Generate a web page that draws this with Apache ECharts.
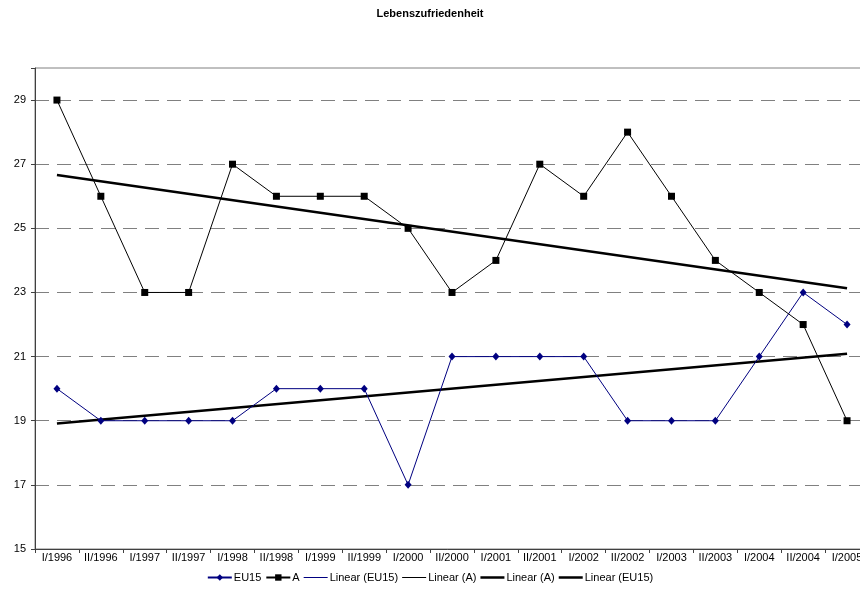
<!DOCTYPE html>
<html>
<head>
<meta charset="utf-8">
<script src="https://cdn.jsdelivr.net/npm/echarts@6/dist/echarts.min.js"></script>
<style>html,body{margin:0;padding:0;background:#fff;}#c{width:860px;height:614px;}</style>
</head>
<body>
<div id="c"></div>
<script>
var categories = ['I/1996','II/1996','I/1997','II/1997','I/1998','II/1998','I/1999','II/1999','I/2000','II/2000','I/2001','II/2001','I/2002','II/2002','I/2003','II/2003','I/2004','II/2004','I/2005'];
var eu15 = [20,19,19,19,19,20,20,20,17,21,21,21,21,19,19,19,21,23,22];
var austria = [29,26,23,23,27,26,26,26,25,23,24,27,26,28,26,24,23,22,19];
// trend line end points (first and last category)
var trendA = [26.66, 23.13];
var trendEU = [18.91, 21.09];
var yTicks = [15,17,19,21,23,25,27,29];

function endpoints(v){
  var d = categories.map(function(){return null;});
  d[0] = v[0]; d[d.length-1] = v[1];
  return d;
}

var chart = echarts.init(document.getElementById('c'));
var font = 'Liberation Sans, Arial, sans-serif';
var thinIcon = 'path://M0,0L24,0L24,1L0,1Z';
var thickIcon = 'path://M0,0L48,0L48,5L0,5Z';
chart.setOption({
  animation: false,
  backgroundColor: '#fff',
  title: {
    text: 'Lebenszufriedenheit', left: 'center', top: 3,
    textStyle: {fontFamily: font, fontSize: 11, fontWeight: 'bold', color: '#000'}
  },
  legend: {
    bottom: 26, left: 'center', itemGap: 4, itemWidth: 24, itemHeight: 8,
    textStyle: {fontFamily: font, fontSize: 11, color: '#000', padding: [0,0,0,-3]},
    formatter: function(n){ return n.trim(); },
    data: [
      {name: 'EU15'}, {name: 'A'},
      {name: 'Linear (EU15)', icon: thinIcon, itemStyle: {color: '#000080'}},
      {name: 'Linear (A)', icon: thinIcon, itemStyle: {color: '#000'}},
      {name: 'Linear (A) ', icon: thickIcon, itemStyle: {color: '#000'}},
      {name: 'Linear (EU15) ', icon: thickIcon, itemStyle: {color: '#000'}}
    ]
  },
  grid: {left: 35, top: 68, width: 834, bottom: 65, outerBoundsMode: 'none', containLabel: false,
    show: true, borderColor: '#808080', borderWidth: 1, backgroundColor: 'transparent'},
  xAxis: {
    type: 'category', data: categories, boundaryGap: true,
    axisLine: {lineStyle: {color: '#404040', width: 1}},
    axisTick: {show: true, alignWithLabel: false, length: 4, lineStyle: {color: '#404040'}},
    axisLabel: {interval: 0, fontFamily: font, fontSize: 11, color: '#000', margin: 3}
  },
  yAxis: {
    type: 'value', min: 15, max: 30, interval: 2,
    axisLine: {show: true, lineStyle: {color: '#404040', width: 1}},
    axisTick: {show: true, length: 4, lineStyle: {color: '#404040'}},
    axisLabel: {fontFamily: font, fontSize: 11, color: '#000', margin: 9,
      formatter: function(v){ return yTicks.indexOf(v) >= 0 ? String(v) : ''; }},
    splitLine: {show: true, showMinLine: false, showMaxLine: false, lineStyle: {color: '#808080', type: [14, 8], width: 1}}
  },
  series: [
    {name: 'EU15', type: 'line', data: eu15, symbol: 'diamond', symbolSize: [7, 8],
      lineStyle: {color: '#000080', width: 1}, itemStyle: {color: '#000080'}, z: 3},
    {name: 'A', type: 'line', data: austria, symbol: 'rect', symbolSize: 7,
      lineStyle: {color: '#000', width: 1}, itemStyle: {color: '#000'}, z: 3},
    {name: 'Linear (EU15)', type: 'line', data: [], symbol: 'none',
      lineStyle: {color: '#000080', width: 1}, itemStyle: {color: '#000080'}},
    {name: 'Linear (A)', type: 'line', data: [], symbol: 'none',
      lineStyle: {color: '#000', width: 1}, itemStyle: {color: '#000'}},
    {name: 'Linear (A) ', type: 'line', data: endpoints(trendA), connectNulls: true, symbol: 'none',
      lineStyle: {color: '#000', width: 2.5}, itemStyle: {color: '#000'}, z: 2},
    {name: 'Linear (EU15) ', type: 'line', data: endpoints(trendEU), connectNulls: true, symbol: 'none',
      lineStyle: {color: '#000', width: 2.5}, itemStyle: {color: '#000'}, z: 2}
  ]
});
</script>
</body>
</html>
